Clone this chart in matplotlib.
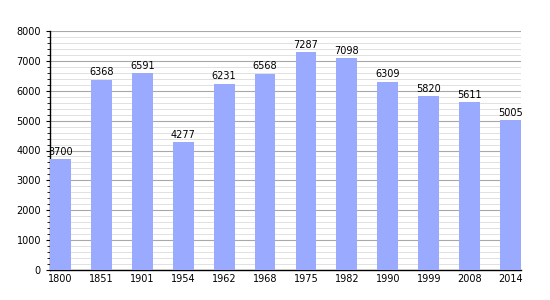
import numpy as np
import matplotlib
matplotlib.use('Agg')
import matplotlib.pyplot as plt
from matplotlib.ticker import MultipleLocator

years = ['1800', '1851', '1901', '1954', '1962', '1968', '1975', '1982', '1990', '1999', '2008', '2014']
population = [3700, 6368, 6591, 4277, 6231, 6568, 7287, 7098, 6309, 5820, 5611, 5005]

bar_color = '#99aaff'
width = 0.51

fig = plt.figure(figsize=(5.5, 3), dpi=100)
ax = fig.add_axes([50/550, 1 - 270/300, 471/550, 239/300])

x = np.arange(len(years))
ax.bar(x, population, width=width, color=bar_color, zorder=3)
for xi, v in zip(x, population):
    ax.text(xi, v + 80, str(v), ha='center', va='bottom', fontsize=7, zorder=4)

ax.set_xlim(-width/2, len(years) - 1 + width/2)
ax.set_ylim(0, 8000)
ax.set_xticks(x)
ax.set_xticklabels(years, fontsize=7)
ax.yaxis.set_major_locator(MultipleLocator(1000))
ax.yaxis.set_minor_locator(MultipleLocator(200))
ax.tick_params(axis='y', labelsize=7, length=3, width=0.8)
ax.tick_params(axis='y', which='minor', length=2, width=0.6)
ax.tick_params(axis='x', length=0, pad=3)

ax.grid(axis='y', which='major', color='#a8a8a8', linewidth=0.8, zorder=0)
ax.grid(axis='y', which='minor', color='#dcdcdc', linewidth=0.6, zorder=0)
for s in ['top', 'right']:
    ax.spines[s].set_visible(False)
ax.spines['left'].set_linewidth(1)
ax.spines['bottom'].set_linewidth(1)

fig.savefig('out.png', dpi=100)
